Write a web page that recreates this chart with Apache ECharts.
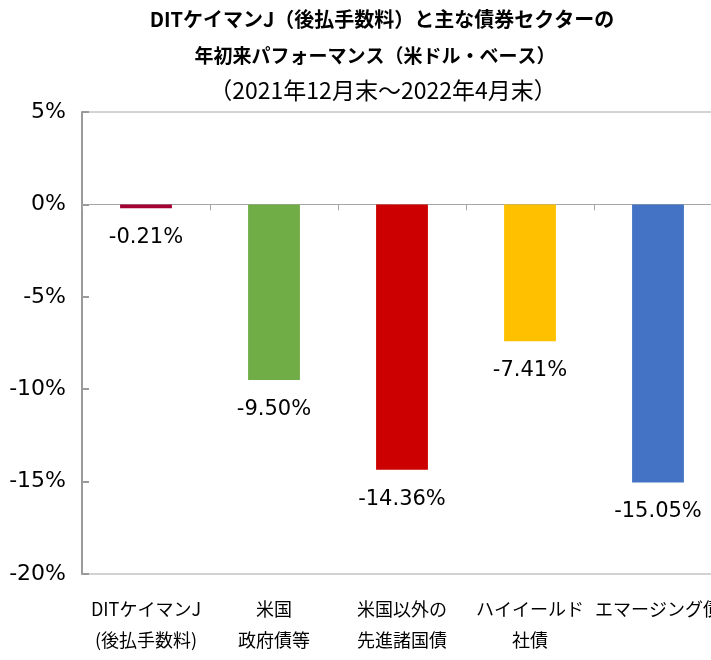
<!DOCTYPE html>
<html>
<head>
<meta charset="utf-8">
<script src="https://cdn.jsdelivr.net/npm/echarts@6/dist/echarts.min.js"></script>
<style>
html,body{margin:0;padding:0;background:#fff;}
#chart{width:711px;height:660px;}
</style>
</head>
<body>
<div id="chart"></div>
<script>
const categories = ['DITケイマンJ\n(後払手数料)', '米国\n政府債等', '米国以外の\n先進諸国債', 'ハイイールド\n社債', 'エマージング債'];
const values = [-0.21, -9.50, -14.36, -7.41, -15.05];
const barColors = ['#A50034', '#70AD47', '#CC0000', '#FFC000', '#4472C4'];
const yTicks = { min: -20, max: 5, interval: 5 };
const titleLines = ['DITケイマンJ（後払手数料）と主な債券セクターの', '年初来パフォーマンス（米ドル・ベース）', '（2021年12月末～2022年4月末）'];

const jp = '"Noto Sans CJK JP", "Noto Sans", sans-serif';
const num = '"DejaVu Sans", Verdana, sans-serif';
const gray = '#A6A6A6';

const chart = echarts.init(document.getElementById('chart'), null, { renderer: 'canvas' });
chart.setOption({
  animation: false,
  backgroundColor: '#fff',
  title: [
    { text: titleLines[0], left: 377, top: 4, textAlign: 'center', textStyle: { fontFamily: jp, fontWeight: 'bold', fontSize: 20, color: '#000' } },
    { text: titleLines[1], left: 370, top: 41, textAlign: 'center', textStyle: { fontFamily: jp, fontWeight: 'bold', fontSize: 19, color: '#000' } },
    { text: titleLines[2], left: 378, top: 74, textAlign: 'center', textStyle: { fontFamily: jp, fontWeight: 'normal', fontSize: 23, color: '#000' } }
  ],
  grid: { left: 82, right: -11, top: 112, bottom: 86, show: true, borderColor: gray, borderWidth: 1, containLabel: false, outerBoundsMode: 'none' },
  xAxis: [
    {
      type: 'category', data: categories, position: 'bottom',
      axisLine: { show: true, onZero: true, lineStyle: { color: gray, width: 1 } },
      axisTick: { show: true, length: 6, alignWithLabel: false, lineStyle: { color: gray } },
      axisLabel: { show: false },
      splitLine: { show: false }
    },
    {
      type: 'category', data: categories, position: 'bottom',
      axisLine: { show: false, onZero: false },
      axisTick: { show: false },
      axisLabel: { show: true, interval: 0, margin: 20, fontFamily: jp, fontSize: 18, lineHeight: 31, color: '#000', hideOverlap: false },
      splitLine: { show: false }
    }
  ],
  yAxis: {
    type: 'value', min: yTicks.min, max: yTicks.max, interval: yTicks.interval,
    axisLine: { show: true, lineStyle: { color: '#9a9a9a', width: 2 } },
    axisTick: { show: true, inside: true, length: 7, lineStyle: { color: '#9a9a9a', width: 2 } },
    axisLabel: { formatter: '{value}%', fontFamily: num, fontSize: 22, color: '#000', margin: 16 },
    splitLine: { show: false }
  },
  series: [{
    type: 'bar', xAxisIndex: 0,
    data: values.map((v, i) => ({ value: v, itemStyle: { color: barColors[i] } })),
    barWidth: '40.5%',
    label: {
      show: true, position: 'bottom', distance: 19,
      formatter: p => p.value.toFixed(2) + '%',
      fontFamily: num, fontSize: 21, color: '#000'
    }
  }]
});
</script>
</body>
</html>
